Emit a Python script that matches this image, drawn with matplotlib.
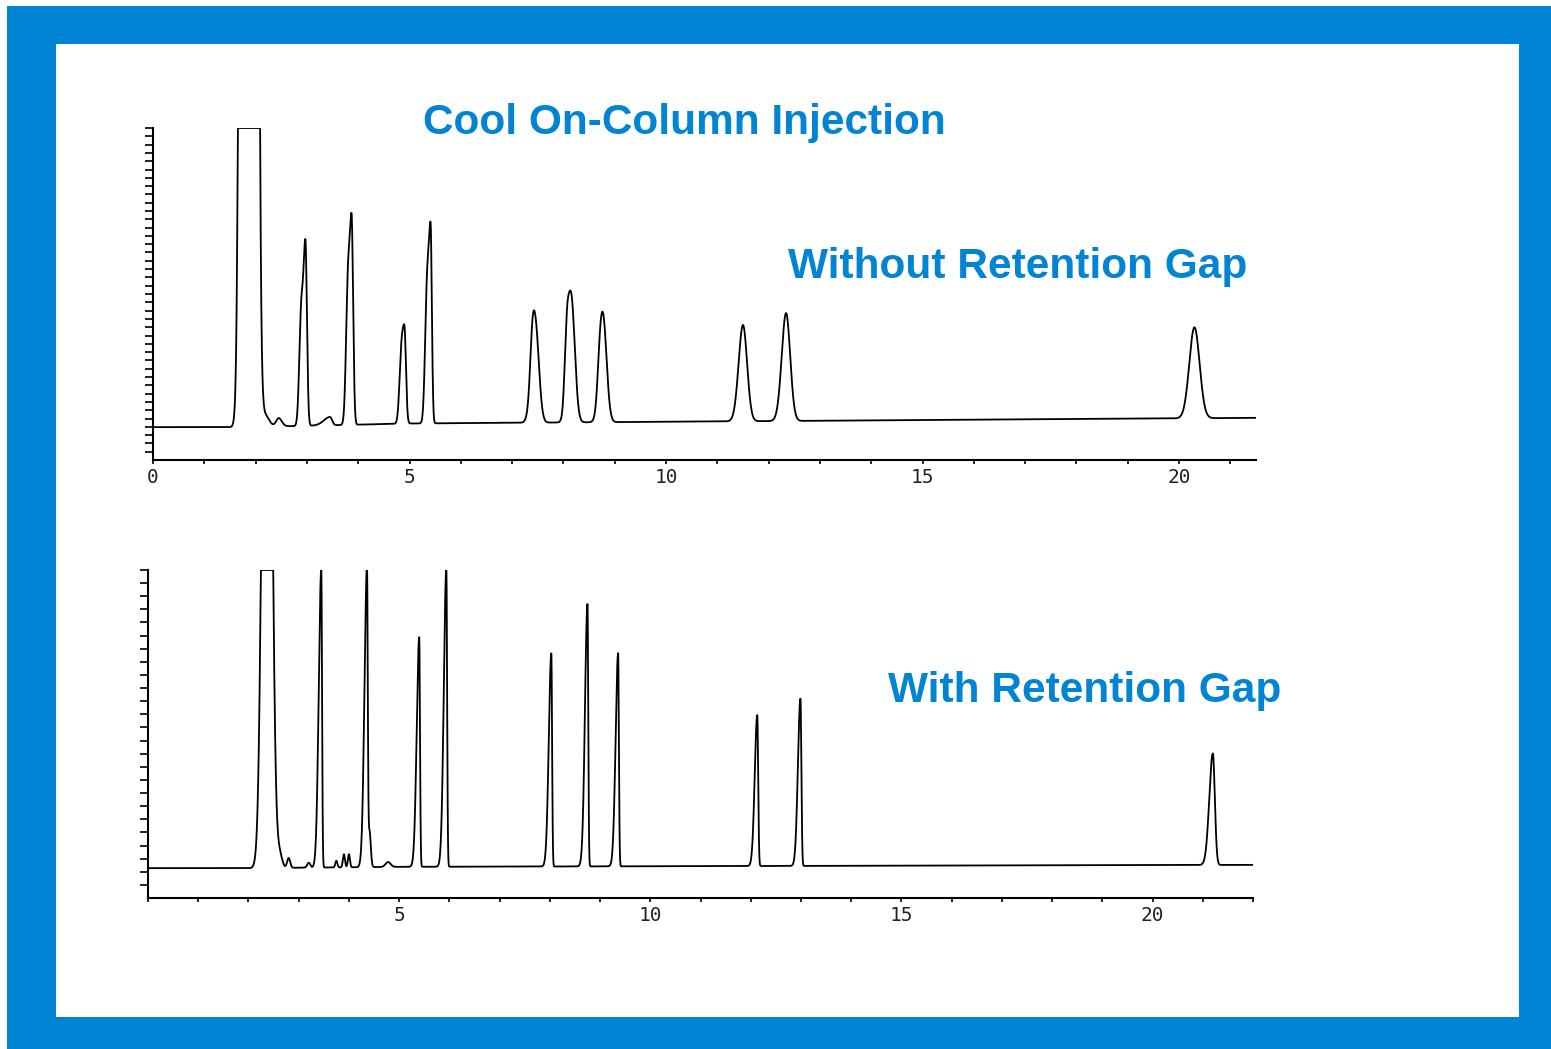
import numpy as np
import matplotlib
matplotlib.use("Agg")
import matplotlib.pyplot as plt
from matplotlib.patches import Rectangle

# -----------------------------
# Data
# -----------------------------
# top trace: without retention gap  (time in min, height in % of full scale)
top_rt = [1.87, 2.18, 2.45, 3.45, 2.88, 2.97, 3.79, 3.87, 4.83, 4.90, 5.33, 5.41,
          7.39, 7.45, 8.06, 8.15, 8.70, 8.77, 11.50, 12.34, 20.30]
top_height = [6000, 3.5, 2.5, 2.5, 24, 56, 26, 63, 11, 29, 24, 60,
              8, 30, 15, 38, 5, 32, 29, 32.5, 27.4]
top_sig_left = [0.075, 0.08, 0.05, 0.12, 0.035, 0.05, 0.035, 0.05, 0.035, 0.05, 0.035, 0.05,
                0.04, 0.075, 0.04, 0.07, 0.04, 0.07, 0.085, 0.085, 0.10]
top_sig_right = [0.075, 0.08, 0.06, 0.04, 0.03, 0.03, 0.03, 0.03, 0.03, 0.03, 0.03, 0.025,
                 0.04, 0.07, 0.04, 0.07, 0.04, 0.07, 0.08, 0.08, 0.10]
top_base_t = [0.0, 1.8, 5.0, 21.5]
top_base_y = [9.9, 9.9, 11.0, 12.7]

# bottom trace: with retention gap
bot_rt = [2.37, 2.62, 2.80, 3.20, 3.45, 3.75, 3.90, 4.00, 4.36, 4.41, 4.78,
          5.40, 5.94, 8.03, 8.75, 9.36, 12.13, 12.99, 21.20]
bot_height = [300, 4.0, 3.0, 1.5, 91, 2.0, 4.0, 4.0, 91, 11, 1.5,
              70, 91, 65, 80, 65, 46, 51, 34]
bot_sig_left = [0.08, 0.05, 0.03, 0.03, 0.05, 0.02, 0.02, 0.02, 0.05, 0.025, 0.05,
                0.05, 0.05, 0.05, 0.05, 0.05, 0.05, 0.05, 0.07]
bot_sig_right = [0.08, 0.05, 0.03, 0.03, 0.015, 0.02, 0.02, 0.02, 0.015, 0.025, 0.05,
                 0.015, 0.015, 0.015, 0.015, 0.015, 0.018, 0.018, 0.04]
bot_base_t = [0.0, 2.0, 5.0, 22.0]
bot_base_y = [9.1, 9.1, 9.5, 10.1]

top_ticks = [0, 5, 10, 15, 20]
bot_ticks = [5, 10, 15, 20]

title = "Cool On-Column Injection"
top_label = "Without Retention Gap"
bot_label = "With Retention Gap"

BLUE = "#0284d4"
W, H = 1551, 1049


# -----------------------------
# Functions
# -----------------------------
def trace(t, rts, heights, sig_l, sig_r, base_t, base_y):
    # baseline plus one bi-gaussian per peak, clipped at full scale
    y = np.interp(t, base_t, base_y)
    for rt, h, sl, sr in zip(rts, heights, sig_l, sig_r):
        s = np.where(t < rt, sl, sr)
        y = y + h * np.exp(-0.5 * ((t - rt) / s) ** 2)
    return np.minimum(y, 100)


def px_axes(fig, left, top, right, bottom):
    # axes placed by pixel box of the reference
    return fig.add_axes([left / W, 1 - bottom / H, (right - left) / W, (bottom - top) / H])


def style_axes(ax, xmax, ticks, ystep):
    ax.set_xlim(0, xmax)
    ax.set_ylim(0, 100)
    ax.patch.set_alpha(0)
    for side in ["top", "right"]:
        ax.spines[side].set_visible(False)
    for side in ["left", "bottom"]:
        ax.spines[side].set_linewidth(1.5)
    ax.set_xticks(ticks)
    ax.set_xticklabels([str(v) for v in ticks], fontfamily="DejaVu Sans Mono",
                       fontsize=14, color="#222222")
    ax.set_xticks(np.arange(0, xmax + 0.01, 1), minor=True)
    ax.tick_params(axis="x", which="both", direction="out", length=3, width=1.2, pad=3)
    ax.set_yticks(np.arange(ystep, 100.1, ystep))
    ax.set_yticklabels([])
    ax.tick_params(axis="y", direction="out", length=6, width=1.2)


# -----------------------------
# Figure
# -----------------------------
fig = plt.figure(figsize=(W / 100, H / 100), dpi=100)
fig.patch.set_facecolor("white")

bg = fig.add_axes([0, 0, 1, 1], zorder=-5)
bg.set_xlim(0, W)
bg.set_ylim(H, 0)
bg.axis("off")
bg.add_patch(Rectangle((7, 6), W - 7, H - 6, facecolor=BLUE, edgecolor="none"))
bg.add_patch(Rectangle((56, 44), 1519 - 56, 1017 - 44, facecolor="white", edgecolor="none"))

# top chromatogram
ax1 = px_axes(fig, 153, 128, 1256, 460)
t1 = np.linspace(0, 21.5, 10000)
ax1.plot(t1, trace(t1, top_rt, top_height, top_sig_left, top_sig_right,
                   top_base_t, top_base_y),
         color="black", lw=1.3)
style_axes(ax1, 21.5, top_ticks, 2.5)

# bottom chromatogram
ax2 = px_axes(fig, 148, 570, 1253, 898)
t2 = np.linspace(0, 22.0, 10000)
ax2.plot(t2, trace(t2, bot_rt, bot_height, bot_sig_left, bot_sig_right,
                   bot_base_t, bot_base_y),
         color="black", lw=1.3)
style_axes(ax2, 22.0, bot_ticks, 4)

# titles
fig.text(684 / W, 1 - 123 / H, title, ha="center", va="center", color=BLUE,
         fontsize=30.5, fontweight="bold", fontfamily="Liberation Sans")
fig.text(1018 / W, 1 - 267 / H, top_label, ha="center", va="center", color=BLUE,
         fontsize=30.5, fontweight="bold", fontfamily="Liberation Sans")
fig.text(1085 / W, 1 - 691 / H, bot_label, ha="center", va="center", color=BLUE,
         fontsize=30.5, fontweight="bold", fontfamily="Liberation Sans")

fig.savefig("out.png", dpi=100)
